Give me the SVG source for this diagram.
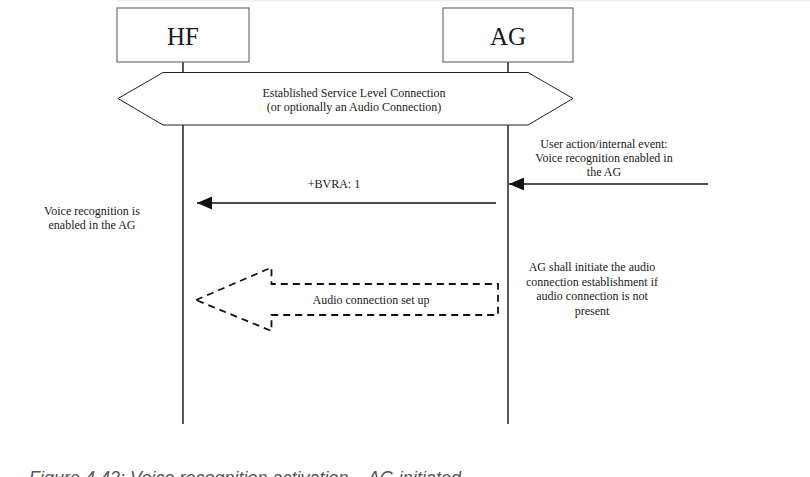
<svg xmlns="http://www.w3.org/2000/svg" width="810" height="477" viewBox="0 0 810 477">
<style>
  .t { font-family: "Liberation Serif", "Times New Roman", serif; fill: #1a1a1a; font-size: 12px; text-anchor: middle; }
  .big { font-size: 25px; }
  .box { fill: #fff; stroke: #555; stroke-width: 1; }
  .life { stroke: #222; stroke-width: 1.5; fill: none; }
  .msg { stroke: #111; stroke-width: 1.5; fill: none; }
  .dash { stroke: #111; stroke-width: 1.8; fill: none; stroke-dasharray: 7 5; }
  .cap { font-family: "Liberation Sans", Arial, sans-serif; font-style: italic; font-size: 18px; fill: #555; }
</style>
<defs>
  <marker id="ah" markerUnits="userSpaceOnUse" markerWidth="16" markerHeight="14" refX="15" refY="7" orient="auto" viewBox="0 0 16 14">
    <path d="M15,7 L0,0.5 L0,13.5 Z" fill="#111"/>
  </marker>
</defs>
<rect x="0" y="0" width="810" height="477" fill="#fff"/>
<rect x="117" y="0" width="693" height="1.5" fill="#eaf0f7"/>

<g id="lifelines" class="connectors">
  <line class="life" x1="183" y1="62" x2="183" y2="72"/>
  <line class="life" x1="183" y1="125" x2="183" y2="424"/>
  <line class="life" x1="508" y1="62" x2="508" y2="72"/>
  <line class="life" x1="508" y1="125" x2="508" y2="424"/>
</g>

<g id="HF">
  <rect class="box" x="117" y="8" width="132" height="54"/>
  <text class="t big" x="183" y="45">HF</text>
</g>
<g id="AG">
  <rect class="box" x="443" y="8" width="130" height="54"/>
  <text class="t big" x="508" y="45">AG</text>
</g>

<g id="slc">
  <polygon points="118,98.5 163,72.5 528,72.5 573,98.5 528,125 163,125" fill="#fff" stroke="#222" stroke-width="1"/>
  <text class="t" x="354" y="97">Established Service Level Connection</text>
  <text class="t" x="354" y="111">(or optionally an Audio Connection)</text>
</g>

<g id="connectors">
  <line class="msg" x1="708" y1="184" x2="509" y2="184" marker-end="url(#ah)"/>
  <line class="msg" x1="496" y1="203" x2="197" y2="203" marker-end="url(#ah)"/>
  <polygon class="dash" points="196,300 271.5,267.5 271.5,284 498,284 498,315 271.5,315 271.5,331"/>
</g>

<g id="labels">
  <text class="t" x="604" y="148">User action/internal event:</text>
  <text class="t" x="604" y="162">Voice recognition enabled in</text>
  <text class="t" x="604" y="175.5">the AG</text>
  <text class="t" x="334" y="188">+BVRA: 1</text>
  <text class="t" x="92" y="214.5">Voice recognition is</text>
  <text class="t" x="92" y="228.5">enabled in the AG</text>
  <text class="t" x="371" y="303.5">Audio connection set up</text>
  <text class="t" x="592" y="271">AG shall initiate the audio</text>
  <text class="t" x="592" y="285.5">connection establishment if</text>
  <text class="t" x="592" y="300">audio connection is not</text>
  <text class="t" x="592" y="314.5">present</text>
</g>

<text class="cap" x="29" y="484">Figure 4.42: Voice recognition activation – AG initiated</text>
</svg>
